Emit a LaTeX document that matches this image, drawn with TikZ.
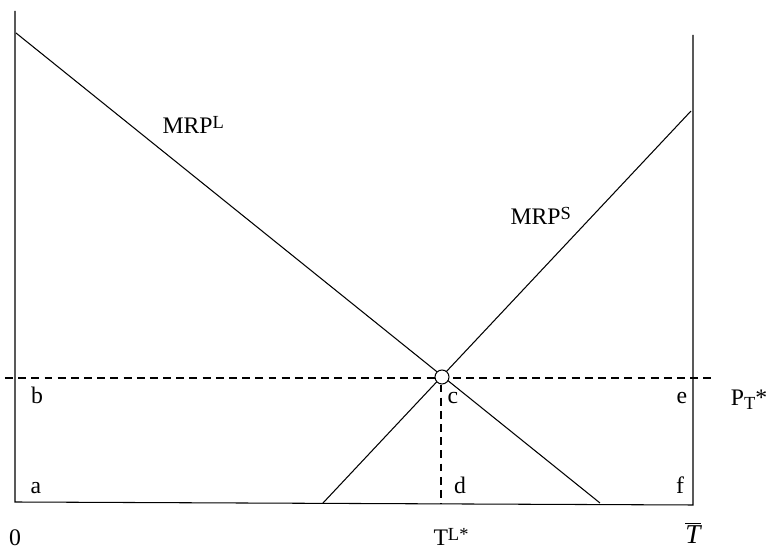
\documentclass[tikz,border=0pt]{standalone}
\usepackage{fontspec}
\setmainfont{Liberation Serif}
\usetikzlibrary{positioning, calc}
\newcommand{\hi}[1]{\raisebox{0.55ex}{\fontsize{10.5}{12}\selectfont #1}}
\newcommand{\lo}[1]{\raisebox{-0.35ex}{\fontsize{10.5}{12}\selectfont #1}}
\tikzset{
  every picture/.style={line width=0.6pt, font=\fontsize{13.5}{16}\selectfont},
  curve/.style={draw=black},
  guide/.style={draw=black, dash pattern=on 4.5pt off 3pt},
  lbl/.style={inner sep=0pt, anchor=base},
  dot/.style={circle, draw=black, fill=white, minimum size=0.28cm, inner sep=0pt},
}
\begin{document}
\begin{tikzpicture}[x=0.02cm, y=-0.02cm]
  \useasboundingbox (0,0) rectangle (769,550);
  % axes and box
  \coordinate (top) at (15,11);
  \coordinate (orig) at (15,502);
  \coordinate (tbar) at (693,505);
  \coordinate (ttop) at (693,35);
  \draw[curve] (top) -- (orig) -- (tbar) -- (ttop);
  % demand curves
  \coordinate (lhi) at (16,33);
  \coordinate (llo) at (600,503);
  \coordinate (slo) at (323,503);
  \coordinate (shi) at (691,111);
  \draw[curve] (lhi) -- (llo);
  \draw[curve] (slo) -- (shi);
  % price line and quantity
  \coordinate (pl) at (5,378);
  \coordinate (pr) at (712,378);
  \coordinate (dbot) at (441,504);
  \draw[guide] (pl) -- (pr);
  \node[dot] (eq) at (442,377) {};
  \draw[guide] (eq.south -| dbot) -- (dbot);
  % labels
  \node[lbl, anchor=base west] (mrpl) at (162,134) {MRP\hi{L}};
  \node[lbl, anchor=base west] (mrps) at (510,225) {MRP\hi{S}};
  \node[lbl] (b) at (37,404) {b};
  \node[lbl] (c) at (453,404) {c};
  \node[lbl] (e) at (682,404) {e};
  \node[lbl] (pt) at (749,406) {P\lo{T}*};
  \node[lbl] (a) at (36,494) {a};
  \node[lbl] (d) at (460,494) {d};
  \node[lbl] (f) at (680,494) {f};
  \node[lbl] (zero) at (15,546) {0};
  \node[lbl] (tl) at (451,546) {T\hi{L*}};
  \node[lbl] (tb) at (693,544) {\fontsize{15.5}{18}\selectfont$\overline{\textit{T}}$};
\end{tikzpicture}
\end{document}
